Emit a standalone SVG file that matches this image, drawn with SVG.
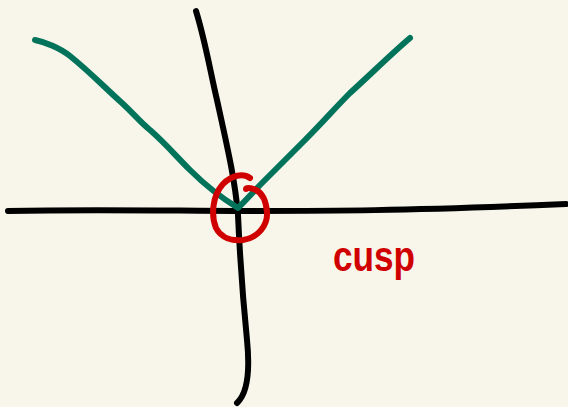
<svg xmlns="http://www.w3.org/2000/svg" width="568" height="407" viewBox="0 0 568 407">
<style>
.ax{fill:none;stroke:#000;stroke-width:6;stroke-linecap:round;stroke-linejoin:round}
.cv{fill:none;stroke:#00735a;stroke-width:6;stroke-linecap:round;stroke-linejoin:round}
.mk{fill:none;stroke:#d00000;stroke-width:6;stroke-linecap:round;stroke-linejoin:round}
.lb{fill:#d00000;font-family:"Liberation Sans",Arial,sans-serif;font-weight:bold}
</style>
<rect width="568" height="407" fill="#f8f6eb"/>
<g id="axes">
<path class="ax" d="M8,211 C100,209 180,211 240,211 C330,211 400,211 566,204"/>
<path class="ax" d="M196,11 C205,40 210,70 217,100 C228,150 235,180 238,215 C240,260 243,300 247,340 C250,370 248,393 237,403"/>
</g>
<g id="curve">
<path class="cv" d="M35,40 C45,42 60,48 70,56 C90,72 105,88 122,103 C135,115 140,122 150,130 C165,143 175,155 190,170 C210,190 225,200 238,208 C248,198 255,190 265,180 C280,165 290,155 305,140 C325,120 335,108 350,93 C370,75 390,55 410,38"/>
</g>
<g id="cusp-mark">
<path class="mk" d="M250,178 C243,173 232,175 223,184 C212,196 211,216 216,228 C221,238 232,241 243,240 C258,238 268,225 267,212 C266,200 262,193 256,190 C250,187 246,188 246,189"/>
</g>
<g id="label">
<text class="lb" x="333" y="271" font-size="43" textLength="82" lengthAdjust="spacingAndGlyphs">cusp</text>
</g>
</svg>
